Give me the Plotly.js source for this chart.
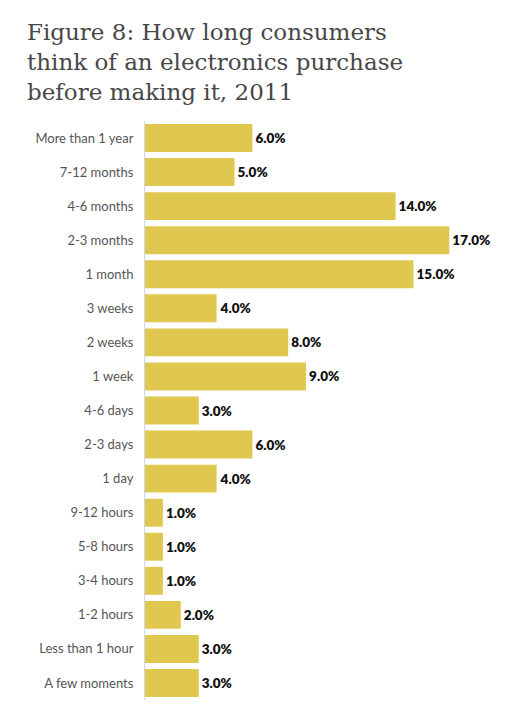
<!DOCTYPE html>
<html>
<head>
<meta charset="utf-8">
<script src="https://cdn.plot.ly/plotly-3.0.1.min.js"></script>
<style>
  html, body { margin: 0; padding: 0; background: #fff; }
  #chart { width: 511px; height: 716px; }
</style>
</head>
<body>
<div id="chart"></div>
<script>
// categories top to bottom, as in the figure
const periods = [
  "More than 1 year", "7-12 months", "4-6 months", "2-3 months", "1 month",
  "3 weeks", "2 weeks", "1 week", "4-6 days", "2-3 days", "1 day",
  "9-12 hours", "5-8 hours", "3-4 hours", "1-2 hours", "Less than 1 hour",
  "A few moments"
];
const shares = [6, 5, 14, 17, 15, 4, 8, 9, 3, 6, 4, 1, 1, 1, 2, 3, 3];

const trace = {
  type: "bar",
  orientation: "h",
  y: periods,
  x: shares,
  marker: { color: "#e0c850" },
  texttemplate: "%{x:.1f}%",
  textposition: "outside",
  cliponaxis: false,
  textfont: { family: "Lato, sans-serif", size: 13.5, color: "#111", weight: 800 },
  hoverinfo: "skip"
};

// plot area: left 145, right 8, top 121, bottom 16 -> 358 x 579
const layout = {
  width: 511,
  height: 716,
  margin: { l: 145, r: 8, t: 121, b: 16 },
  paper_bgcolor: "#fff",
  plot_bgcolor: "#fff",
  showlegend: false,
  bargap: 0.18,
  annotations: [{
    text: "Figure 8: How long consumers<br>think of an electronics purchase<br>before making it, 2011",
    font: { family: "DejaVu Serif, serif", size: 23, color: "#474747" },
    align: "left",
    showarrow: false,
    xref: "paper", yref: "paper",
    x: (25 - 145) / 358, xanchor: "left",
    y: 1 + (121 - 17) / 579, yanchor: "top"
  }],
  xaxis: {
    range: [0, 20],
    visible: false,
    fixedrange: true
  },
  yaxis: {
    categoryorder: "array",
    categoryarray: periods,
    autorange: "reversed",
    showline: true,
    linecolor: "#cdd8ec",
    linewidth: 1,
    showgrid: false,
    zeroline: false,
    ticks: "",
    ticklabelstandoff: 8,
    tickfont: { family: "Lato, sans-serif", size: 13, color: "#555" },
    fixedrange: true
  }
};

Plotly.newPlot("chart", [trace], layout, { displayModeBar: false, staticPlot: true });
</script>
</body>
</html>
